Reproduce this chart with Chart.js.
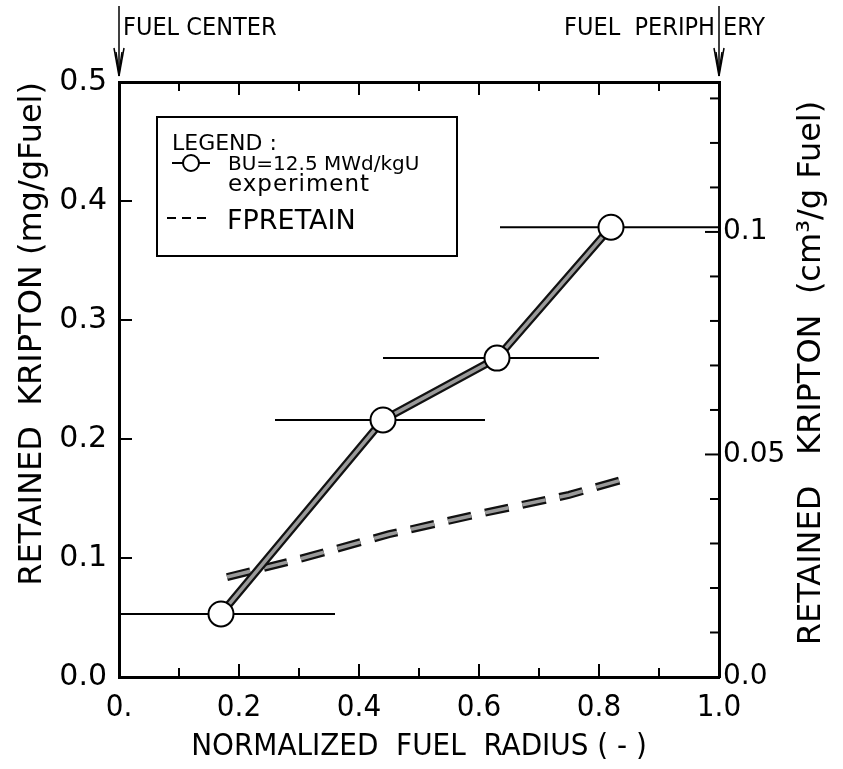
<!DOCTYPE html>
<html>
<head>
<meta charset="utf-8">
<script src="https://cdn.jsdelivr.net/npm/chart.js@4.4.1/dist/chart.umd.min.js"></script>
<style>
  html, body { margin: 0; padding: 0; background: #fff; }
  canvas { display: block; }
</style>
</head>
<body>
<canvas id="kr-chart" width="843" height="769"></canvas>
<script>
// experiment, BU = 12.5 MWd/kgU
const radius = [0.17, 0.44, 0.63, 0.82];
const retained = [0.053, 0.216, 0.268, 0.378];
const radiusLow = [0.0, 0.26, 0.44, 0.635];
const radiusHigh = [0.36, 0.61, 0.80, 1.0];

// FPRETAIN calculation
const calcRadius = [0.18, 0.30, 0.45, 0.60, 0.75, 0.84];
const calcRetained = [0.084, 0.099, 0.12, 0.137, 0.153, 0.166];

const xTicks = [0, 0.2, 0.4, 0.6, 0.8, 1.0];
const xTickLabels = ['0.', '0.2', '0.4', '0.6', '0.8', '1.0'];
const yTicks = [0, 0.1, 0.2, 0.3, 0.4, 0.5];
const y2Ticks = [0, 0.05, 0.1];
const y2TickLabels = ['0.0', '0.05', '0.1'];
const MG_PER_CM3 = 3.74;

const NARROW = "'DejaVu Sans Condensed', 'Liberation Sans Narrow', 'DejaVu Sans', sans-serif";
const PLAIN = "'DejaVu Sans', sans-serif";

const pts = (xs, ys) => xs.map((x, i) => ({ x, y: ys[i] }));

const errorBars = radius.map((r, i) => ({
    data: [{ x: radiusLow[i], y: retained[i] }, { x: radiusHigh[i], y: retained[i] }],
    borderColor: '#000',
    borderWidth: 2,
    pointRadius: 0,
    showLine: true,
    order: 5,
}));

const decor = {
    id: 'decor',
    afterDraw(chart) {
        const { ctx, chartArea: a, scales } = chart;
        const line = (x1, y1, x2, y2) => {
            ctx.beginPath();
            ctx.moveTo(x1, y1);
            ctx.lineTo(x2, y2);
            ctx.stroke();
        };
        ctx.save();
        ctx.strokeStyle = '#000';
        ctx.fillStyle = '#000';
        ctx.lineWidth = 2;

        // inward ticks
        for (let i = 1; i < 10; i++) {
            const px = scales.x.getPixelForValue(i / 10);
            const len = i % 2 === 0 ? 13 : 9;
            line(px, a.bottom, px, a.bottom - len);
            line(px, a.top, px, a.top + len);
        }
        yTicks.slice(1, -1).forEach((v) => {
            const py = scales.y.getPixelForValue(v);
            line(a.left, py, a.left + 13, py);
        });
        for (let i = 1; i <= 13; i++) {
            const py = scales.y2.getPixelForValue(i / 100);
            const len = i % 5 === 0 ? 14 : 9;
            line(a.right, py, a.right - len, py);
        }

        // fuel center / periphery arrows
        const arrow = (px) => {
            ctx.lineWidth = 1.5;
            line(px, 6, px, a.top - 6);
            line(px - 5, a.top - 34, px, a.top - 6);
            line(px + 5, a.top - 34, px, a.top - 6);
            line(px - 3, a.top - 30, px, a.top - 10);
            line(px + 3, a.top - 30, px, a.top - 10);
        };
        const x0 = scales.x.getPixelForValue(0);
        const x1 = scales.x.getPixelForValue(1);
        arrow(x0);
        arrow(x1);
        ctx.font = '25px ' + NARROW;
        ctx.textBaseline = 'alphabetic';
        ctx.textAlign = 'left';
        ctx.fillText('FUEL CENTER', x0 + 4, 35);
        ctx.textAlign = 'right';
        ctx.fillText('FUEL  PERIPH', x1 - 4, 35);
        ctx.textAlign = 'left';
        ctx.fillText('ERY', x1 + 4, 35);

        // right axis title
        ctx.save();
        ctx.translate(812, 373);
        ctx.rotate(-Math.PI / 2);
        ctx.textAlign = 'center';
        ctx.textBaseline = 'middle';
        ctx.font = '32px ' + PLAIN;
        ctx.fillText('RETAINED   KRIPTON  (cm³/g Fuel)', 0, 0);
        ctx.restore();

        // legend box
        ctx.lineWidth = 2;
        ctx.strokeRect(157, 117, 300, 139);
        ctx.textAlign = 'left';
        ctx.font = '22px ' + PLAIN;
        ctx.fillText('LEGEND :', 172, 150);
        line(172, 163, 210, 163);
        ctx.beginPath();
        ctx.arc(191, 163, 8, 0, Math.PI * 2);
        ctx.fillStyle = '#fff';
        ctx.fill();
        ctx.stroke();
        ctx.fillStyle = '#000';
        ctx.font = '20px ' + PLAIN;
        ctx.fillText('BU=12.5 MWd/kgU', 228, 170);
        ctx.font = '23px ' + PLAIN;
        ctx.letterSpacing = '1px';
        ctx.fillText('experiment', 228, 191);
        ctx.letterSpacing = '0px';
        ctx.setLineDash([9, 6]);
        line(167, 218, 210, 218);
        ctx.setLineDash([]);
        ctx.font = '27px ' + PLAIN;
        ctx.fillText('FPRETAIN', 227, 229);
        ctx.restore();
    },
};

new Chart(document.getElementById('kr-chart'), {
    type: 'scatter',
    data: {
        datasets: [
            {
                data: pts(radius, retained),
                pointRadius: 12.5,
                pointHoverRadius: 12.5,
                pointBackgroundColor: '#fff',
                pointBorderColor: '#000',
                pointBorderWidth: 2,
                showLine: false,
                order: 0,
            },
            {
                data: pts(radius, retained),
                showLine: true,
                borderColor: '#9a9a9a',
                borderWidth: 3.5,
                pointRadius: 0,
                order: 1,
            },
            {
                data: pts(radius, retained),
                showLine: true,
                borderColor: '#111',
                borderWidth: 8,
                pointRadius: 0,
                order: 2,
            },
            {
                data: pts(calcRadius, calcRetained),
                showLine: true,
                borderColor: '#9a9a9a',
                borderWidth: 3.5,
                borderDash: [24, 14],
                pointRadius: 0,
                order: 3,
            },
            {
                data: pts(calcRadius, calcRetained),
                showLine: true,
                borderColor: '#111',
                borderWidth: 8,
                borderDash: [24, 14],
                pointRadius: 0,
                order: 4,
            },
            ...errorBars,
        ],
    },
    options: {
        responsive: false,
        animation: false,
        events: [],
        layout: { padding: 0 },
        plugins: { legend: { display: false }, tooltip: { enabled: false } },
        scales: {
            x: {
                type: 'linear',
                position: 'bottom',
                min: 0,
                max: 1,
                afterBuildTicks: (s) => { s.ticks = xTicks.map((value) => ({ value })); },
                ticks: {
                    callback: (v, i) => xTickLabels[i],
                    font: { family: NARROW, size: 31 },
                    color: '#000',
                    padding: 12,
                    maxRotation: 0,
                },
                grid: { display: false, drawTicks: false },
                border: { display: true, color: '#000', width: 3 },
                title: {
                    display: true,
                    text: 'NORMALIZED  FUEL  RADIUS ( - )',
                    font: { family: NARROW, size: 31 },
                    color: '#000',
                    padding: { top: 0, bottom: 3 },
                },
                afterFit: (s) => { s.height = 92; },
            },
            xTop: {
                type: 'linear',
                position: 'top',
                min: 0,
                max: 1,
                ticks: { display: false },
                grid: { display: false, drawTicks: false },
                border: { display: true, color: '#000', width: 3 },
                afterFit: (s) => { s.height = 82; },
            },
            y: {
                type: 'linear',
                position: 'left',
                min: 0,
                max: 0.5,
                afterBuildTicks: (s) => { s.ticks = yTicks.map((value) => ({ value })); },
                ticks: {
                    callback: (v) => v.toFixed(1),
                    font: { family: PLAIN, size: 30 },
                    color: '#000',
                    padding: 12,
                },
                grid: { display: false, drawTicks: false },
                border: { display: true, color: '#000', width: 3 },
                title: {
                    display: true,
                    text: 'RETAINED  KRIPTON (mg/gFuel)',
                    align: 'end',
                    font: { family: PLAIN, size: 32 },
                    color: '#000',
                    padding: { top: 13, bottom: 0 },
                },
                afterFit: (s) => { s.width = 119; },
            },
            y2: {
                type: 'linear',
                position: 'right',
                min: 0,
                max: 0.5 / MG_PER_CM3,
                afterBuildTicks: (s) => { s.ticks = y2Ticks.map((value) => ({ value })); },
                ticks: {
                    callback: (v, i) => y2TickLabels[i],
                    font: { family: PLAIN, size: 28 },
                    color: '#000',
                    padding: 4,
                },
                grid: { display: false, drawTicks: false },
                border: { display: true, color: '#000', width: 3 },
                afterFit: (s) => { s.width = 124; },
            },
        },
    },
    plugins: [decor],
});
</script>
</body>
</html>
